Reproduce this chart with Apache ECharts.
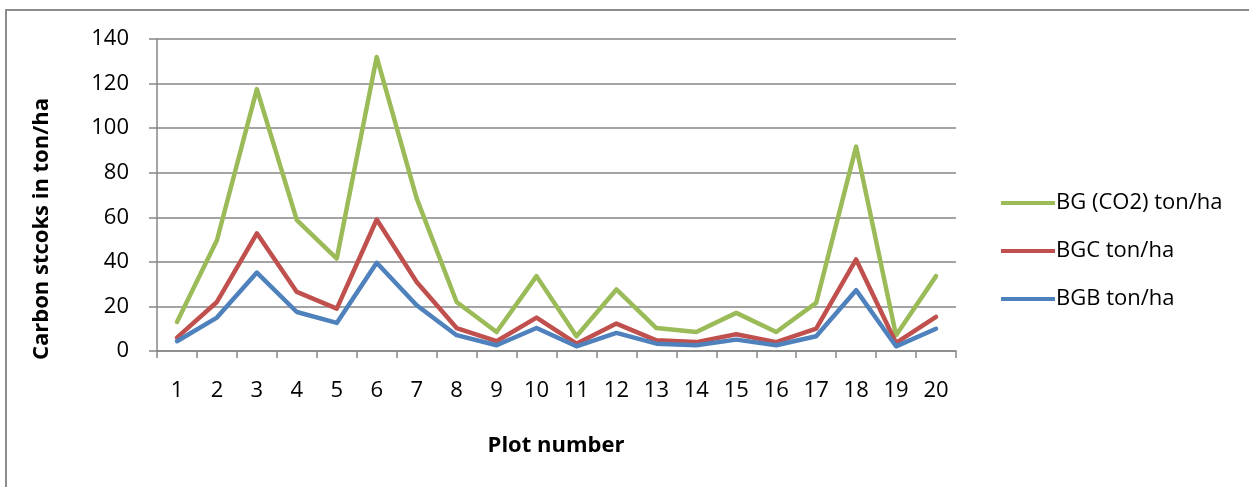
<!DOCTYPE html>
<html>
<head>
<meta charset="utf-8">
<script src="https://cdn.jsdelivr.net/npm/echarts@6/dist/echarts.min.js"></script>
<style>
html,body{margin:0;padding:0;background:#fff;}
#c{width:1249px;height:487px;}
</style>
</head>
<body>
<div id="c"></div>
<script>
const categories = ['1','2','3','4','5','6','7','8','9','10','11','12','13','14','15','16','17','18','19','20'];
const bgCO2 = [13.0, 49.7, 117.5, 58.7, 41.5, 131.9, 68.5, 22.0, 8.5, 33.6, 6.6, 27.6, 10.3, 8.5, 17.1, 8.5, 21.6, 91.7, 7.1, 33.6];
const bgc = [6.0, 22.0, 52.8, 26.5, 19.0, 59.0, 31.0, 10.3, 4.4, 15.0, 3.3, 12.3, 4.8, 4.0, 7.5, 4.0, 10.0, 41.1, 3.6, 15.3];
const bgb = [4.4, 15.0, 35.2, 17.5, 12.6, 39.6, 20.5, 7.1, 2.6, 10.3, 2.1, 8.1, 3.3, 2.6, 5.1, 2.6, 6.6, 27.3, 2.1, 10.0];
const seriesNames = ['BG (CO2) ton/ha', 'BGC ton/ha', 'BGB ton/ha'];
const yTicks = { min: 0, max: 140, interval: 20 };

const FONT = '"Open Sans", "Liberation Sans", sans-serif';
const GRAY = '#868686';
const chart = echarts.init(document.getElementById('c'), null, {renderer: 'canvas'});
const mk = (name, data, color) => ({
  name, type: 'line', data, symbol: 'none', smooth: false,
  lineStyle: {color, width: 4.5, cap: 'round', join: 'round'},
  itemStyle: {color}
});
chart.setOption({
  animation: false,
  backgroundColor: '#fff',
  grid: {left: 157, right: 293, top: 39, bottom: 136},
  xAxis: {
    type: 'category', data: categories, boundaryGap: true,
    axisLine: {lineStyle: {color: GRAY, width: 1.5}},
    axisTick: {show: true, length: 7, lineStyle: {color: GRAY, width: 1.5}},
    axisLabel: {color: '#000', fontSize: 22, fontFamily: FONT, margin: 29},
    splitLine: {show: false}
  },
  yAxis: {
    type: 'value', min: yTicks.min, max: yTicks.max, interval: yTicks.interval,
    axisLine: {show: true, lineStyle: {color: GRAY, width: 1.5}},
    axisTick: {show: true, length: 8, lineStyle: {color: GRAY, width: 1.5}},
    axisLabel: {color: '#000', fontSize: 22, fontFamily: FONT, margin: 28},
    splitLine: {show: true, lineStyle: {color: GRAY, width: 1.5}}
  },
  legend: {
    orient: 'vertical', left: 996, top: 187,
    data: seriesNames.map(n => ({name: n, icon: 'rect'})),
    itemWidth: 54, itemHeight: 4, itemGap: 26,
    textStyle: {color: '#000', fontSize: 22, fontFamily: FONT, padding: [0,0,0,-4]}
  },
  graphic: [
    {type: 'rect', shape: {x: 6, y: 10, width: 1300, height: 600}, style: {fill: 'none', stroke: '#8c8c8c', lineWidth: 2}, z: -1},
    {type: 'text', x: 42, y: 229, rotation: Math.PI/2, style: {text: 'Carbon stcoks in ton/ha', font: 'bold 22px ' + FONT, fill: '#000', textAlign: 'center', textVerticalAlign: 'middle'}},
    {type: 'text', x: 556, y: 446, style: {text: 'Plot number', font: 'bold 22px ' + FONT, fill: '#000', textAlign: 'center', textVerticalAlign: 'middle'}}
  ],
  series: [
    mk(seriesNames[0], bgCO2, '#9BBB59'),
    mk(seriesNames[1], bgc, '#C0504D'),
    mk(seriesNames[2], bgb, '#4F81BD')
  ]
});
</script>
</body>
</html>
